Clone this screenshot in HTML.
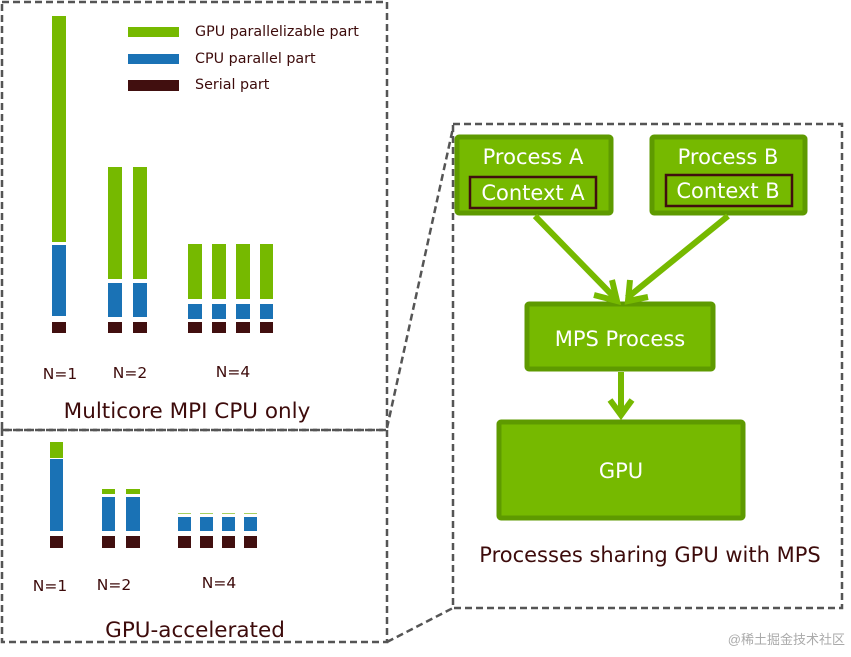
<!DOCTYPE html>
<html><head><style>body{margin:0;background:#fff}svg{display:block}text{font-family:"DejaVu Sans","Liberation Sans",sans-serif}</style></head><body>
<svg width="851" height="657" viewBox="0 0 851 657" xmlns="http://www.w3.org/2000/svg">
<g fill="none" stroke="#555" stroke-width="2.5" stroke-dasharray="7,4">
<rect x="2" y="2" width="385" height="428"/>
<rect x="2" y="430" width="385" height="212"/>
<rect x="453" y="124" width="389" height="484"/>
<line x1="387" y1="428" x2="453" y2="128"/>
<line x1="387" y1="642" x2="453" y2="608"/>
</g>
<rect x="128" y="27" width="51" height="10" fill="#76b900"/>
<rect x="128" y="54" width="51" height="10" fill="#1a72b5"/>
<rect x="128" y="80" width="51" height="11" fill="#410f0f"/>
<g fill="#3d0b0b" font-size="14.3">
<text x="195" y="36">GPU parallelizable part</text>
<text x="195" y="63">CPU parallel part</text>
<text x="195" y="89">Serial part</text>
</g>
<g>
<rect x="52" y="16" width="14" height="226" fill="#76b900"/><rect x="52" y="245" width="14" height="71" fill="#1a72b5"/><rect x="52" y="322" width="14" height="11" fill="#410f0f"/>
<rect x="108" y="167" width="14" height="112" fill="#76b900"/><rect x="108" y="283" width="14" height="34" fill="#1a72b5"/><rect x="108" y="322" width="14" height="11" fill="#410f0f"/>
<rect x="133" y="167" width="14" height="112" fill="#76b900"/><rect x="133" y="283" width="14" height="34" fill="#1a72b5"/><rect x="133" y="322" width="14" height="11" fill="#410f0f"/>
<rect x="188" y="244" width="14" height="55" fill="#76b900"/><rect x="188" y="304" width="14" height="15" fill="#1a72b5"/><rect x="188" y="322" width="14" height="11" fill="#410f0f"/>
<rect x="212" y="244" width="14" height="55" fill="#76b900"/><rect x="212" y="304" width="14" height="15" fill="#1a72b5"/><rect x="212" y="322" width="14" height="11" fill="#410f0f"/>
<rect x="236" y="244" width="14" height="55" fill="#76b900"/><rect x="236" y="304" width="14" height="15" fill="#1a72b5"/><rect x="236" y="322" width="14" height="11" fill="#410f0f"/>
<rect x="260" y="244" width="13" height="55" fill="#76b900"/><rect x="260" y="304" width="13" height="15" fill="#1a72b5"/><rect x="260" y="322" width="13" height="11" fill="#410f0f"/>
</g>
<g fill="#3d0b0b" font-size="15.5" text-anchor="middle">
<text x="60" y="379">N=1</text><text x="130" y="378">N=2</text><text x="233" y="377">N=4</text>
<text x="50" y="591">N=1</text><text x="114" y="590">N=2</text><text x="219" y="588">N=4</text>
</g>
<text x="187" y="418" fill="#3d0b0b" font-size="21.5" text-anchor="middle">Multicore MPI CPU only</text>
<text x="195" y="637" fill="#3d0b0b" font-size="21.5" text-anchor="middle">GPU-accelerated</text>
<rect x="50" y="442" width="13" height="16" fill="#76b900"/><rect x="50" y="459" width="13" height="72" fill="#1a72b5"/><rect x="50" y="536" width="13" height="12" fill="#410f0f"/>
<rect x="102" y="489" width="13" height="5" fill="#76b900"/><rect x="102" y="497" width="13" height="34" fill="#1a72b5"/><rect x="102" y="536" width="13" height="12" fill="#410f0f"/>
<rect x="126" y="489" width="14" height="5" fill="#76b900"/><rect x="126" y="497" width="14" height="34" fill="#1a72b5"/><rect x="126" y="536" width="14" height="12" fill="#410f0f"/>
<g fill="#1a72b5">
<rect x="178" y="517" width="13" height="14"/><rect x="200" y="517" width="13" height="14"/><rect x="222" y="517" width="13" height="14"/><rect x="244" y="517" width="13" height="14"/></g>
<g fill="#a8d060"><rect x="178" y="513" width="13" height="1"/><rect x="200" y="513" width="13" height="1"/><rect x="222" y="513" width="13" height="1"/><rect x="244" y="513" width="13" height="1"/></g>
<g fill="#410f0f"><rect x="178" y="536" width="13" height="12"/><rect x="200" y="536" width="13" height="12"/><rect x="222" y="536" width="13" height="12"/><rect x="244" y="536" width="13" height="12"/></g>
<g fill="#76b900" stroke="#5e9a00" stroke-width="5">
<rect x="457" y="137" width="154" height="76" rx="2"/>
<rect x="652" y="137" width="153" height="76" rx="2"/>
<rect x="527" y="304" width="186" height="65" rx="2"/>
<rect x="499" y="422" width="244" height="96" rx="2"/>
</g>
<rect x="470" y="177" width="126" height="31" fill="#76b900" stroke="#410f0f" stroke-width="2.5"/>
<rect x="666" y="175" width="126" height="31" fill="#76b900" stroke="#410f0f" stroke-width="2.5"/>
<g fill="#fff" font-size="21" text-anchor="middle">
<text x="533" y="164">Process A</text><text x="533" y="200">Context A</text>
<text x="728" y="164">Process B</text><text x="728" y="198">Context B</text>
<text x="620" y="346">MPS Process</text>
<text x="621" y="478">GPU</text>
</g>
<g stroke="#76b900" stroke-width="6" fill="none">
<line x1="535" y1="216" x2="615" y2="298"/>
<line x1="728" y1="216" x2="627" y2="298"/>
<line x1="621" y1="372" x2="621" y2="414"/>
<polyline points="594,295 617,301 612,280"/>
<polyline points="630,280 628,301 648,297"/>
<polyline points="610,400 621,415 632,400"/>
</g>
<text x="650" y="562" fill="#3d0b0b" font-size="21" text-anchor="middle">Processes sharing GPU with MPS</text>
<text x="845" y="644" fill="#aaa" font-size="13" text-anchor="end" style="font-family:'Liberation Sans','Noto Sans CJK SC',sans-serif">@稀土掘金技术社区</text>
</svg>
</body></html>
